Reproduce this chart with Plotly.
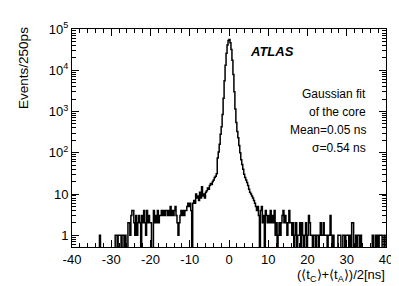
import numpy as np
import plotly.graph_objects as go

# ---- data: histogram of (<tC>+<tA>)/2, 250 ps bins from -40 to 40 ns ----
BIN_LO = -40.0
BIN_WIDTH = 0.25

# bins from -40 to -3 ns (4 bins per ns)
counts_neg = [
    0, 0, 0, 0,  0, 0, 0, 0,  0, 0, 0, 0,  0, 0, 0, 0,   # -40..-36
    0, 0, 0, 0,  0, 0, 0, 0,  0, 0, 0, 0,                # -36..-33
    1, 0, 0, 0,  0, 0, 0, 0,  0, 0, 0, 0,  0, 0, 0, 0,   # -33..-29
    1, 1, 0, 1,  1, 1, 0, 1,  1, 0, 1, 0,  0, 2, 2, 1,   # -29..-25
    3, 4, 4, 2,  1, 3, 1, 2,  3, 2, 0, 3,  2, 4, 2, 1,   # -25..-21
    4, 2, 3, 2,  2, 0, 0, 4,  2, 3, 2, 4,  2, 3, 3, 4,   # -21..-17
    3, 4, 3, 4,  4, 3, 4, 3,  5, 3, 4, 3,  4, 5, 3, 2,   # -17..-13
    1, 2, 3, 4,  3, 4, 3, 4,  4, 5, 6, 5,  6, 4, 0, 6,   # -13..-9
    7, 6, 10, 8,  9, 7, 11, 8,  15, 9, 10, 8,  11, 12, 14, 13,  # -9..-5
    16, 18, 17, 20,  22, 25, 27, 31,                     # -5..-3
]

# core, -3 to 3 ns
counts_core = [
    75, 105, 160, 280,
    430, 850, 2100, 5600,
    13200, 25800, 41000, 53000,
    55500, 46700, 31800, 17400,
    7900, 3000, 1150, 540,
    330, 230, 150, 100,
]

# bins from 3 to 40 ns
counts_pos = [
    68, 52, 40, 30,  25, 22, 19, 16,  13, 11, 10, 9,  8, 7, 6, 5,   # 3..7
    4, 5, 3, 0,  4, 5, 2, 3,  0, 4, 3, 2,  3, 2, 4, 2,            # 7..11
    3, 2, 4, 1,  2, 0, 1, 2,  1, 2, 3, 4,  2, 3, 2, 1,            # 11..15
    2, 4, 2, 2,  1, 2, 0, 1,  2, 0, 1, 1,  2, 0, 2, 1,            # 15..19
    0, 1, 2, 0,  1, 3, 2, 1,  1, 0, 1, 1,  0, 1, 1, 0,            # 19..23
    1, 2, 1, 1,  2, 1, 1, 1,  0, 1, 1, 3,  1, 0, 1, 0,            # 23..27
    0, 0, 0, 1,  1, 1, 0, 0,  1, 1, 0, 1,  1, 1, 0, 1,            # 27..31
    0, 2, 2, 0,  0, 1, 0, 1,  1, 0, 1, 0,  0, 0, 0, 0,            # 31..35
    0, 0, 0, 0,  0, 0, 1, 0,  0, 1, 0, 1,  0, 1, 1, 1,            # 35..39
    0, 0, 1, 0,                                                   # 39..40
]

y_tickvals = [1, 10, 100, 1000, 10000, 100000]
y_ticktext = ["1", "10", "10<sup>2</sup>", "10<sup>3</sup>", "10<sup>4</sup>", "10<sup>5</sup>"]
x_tickvals = [-40, -30, -20, -10, 0, 10, 20, 30, 40]
x_ticktext = ["-40", "-30", "-20", "-10", "0", "10", "20", "30", "40"]

info_lines = ["Gaussian fit", "of the core", "Mean=0.05 ns", "σ=0.54 ns"]

# ---- build ----
counts = np.array(counts_neg + counts_core + counts_pos, dtype=float)
n = len(counts)
edges = BIN_LO + BIN_WIDTH * np.arange(n + 1)
y_plot = np.where(counts > 0, counts, 1e-3)  # empty bins drop below the frame
y_step = np.append(y_plot, y_plot[-1])

FONT = "Liberation Sans, Arial, Helvetica, sans-serif"

fig = go.Figure()
fig.add_trace(go.Scatter(
    x=edges, y=y_step, mode="lines", line_shape="hv",
    line=dict(color="black", width=1.5), showlegend=False, hoverinfo="skip",
))

L, R, T, B = 64, 21, 15, 47
W, H = 399, 286
pw, ph = W - L - R, H - T - B

def px_x(px):
    return (px - L) / pw

def px_y(py):
    return (H - B - py) / ph

minor_y = [k * 10 ** e for e in range(-1, 5) for k in range(2, 10)]

fig.update_layout(
    width=W, height=H,
    margin=dict(l=L, r=R, t=T, b=B),
    paper_bgcolor="white", plot_bgcolor="white",
    font=dict(family=FONT, size=13, color="black"),
    xaxis=dict(
        range=[-40, 40], tickvals=x_tickvals, ticktext=x_ticktext,
        ticks="inside", ticklen=7, tickwidth=1, tickcolor="black",
        showline=True, linecolor="black", linewidth=1, mirror="allticks",
        showgrid=False, zeroline=False,
        minor=dict(dtick=2, ticks="inside", ticklen=4, tickcolor="black", showgrid=False),
        tickfont=dict(size=13),
    ),
    yaxis=dict(
        type="log", range=[-0.284, 5],
        tickvals=y_tickvals, ticktext=y_ticktext,
        ticks="inside", ticklen=7, tickwidth=1, tickcolor="black",
        showline=True, linecolor="black", linewidth=1, mirror="allticks",
        showgrid=False, zeroline=False,
        minor=dict(tickvals=minor_y, ticks="inside", ticklen=4, tickcolor="black", showgrid=False),
        tickfont=dict(size=13),
    ),
)

annotations = [
    dict(text="Events/250ps", x=px_x(16), y=px_y(55), xref="paper", yref="paper",
         textangle=-90, showarrow=False, xanchor="center", yanchor="middle",
         font=dict(size=13.5)),
    dict(text="(⟨t<sub>C</sub>⟩+⟨t<sub>A</sub>⟩)/2[ns]", x=px_x(379), y=px_y(268),
         xref="paper", yref="paper", showarrow=False, xanchor="right", yanchor="middle",
         font=dict(size=13)),
    dict(text="<b><i>ATLAS</i></b>", x=px_x(240), y=px_y(38), xref="paper", yref="paper",
         showarrow=False, xanchor="left", yanchor="middle", font=dict(size=13)),
]
line_y = [82, 100, 118.5, 137]
for txt, py in zip(info_lines, line_y):
    annotations.append(dict(text=txt, x=px_x(360), y=px_y(py), xref="paper", yref="paper",
                            showarrow=False, xanchor="right", yanchor="middle",
                            font=dict(size=12)))
fig.update_layout(annotations=annotations)

fig.write_html("out.html")
